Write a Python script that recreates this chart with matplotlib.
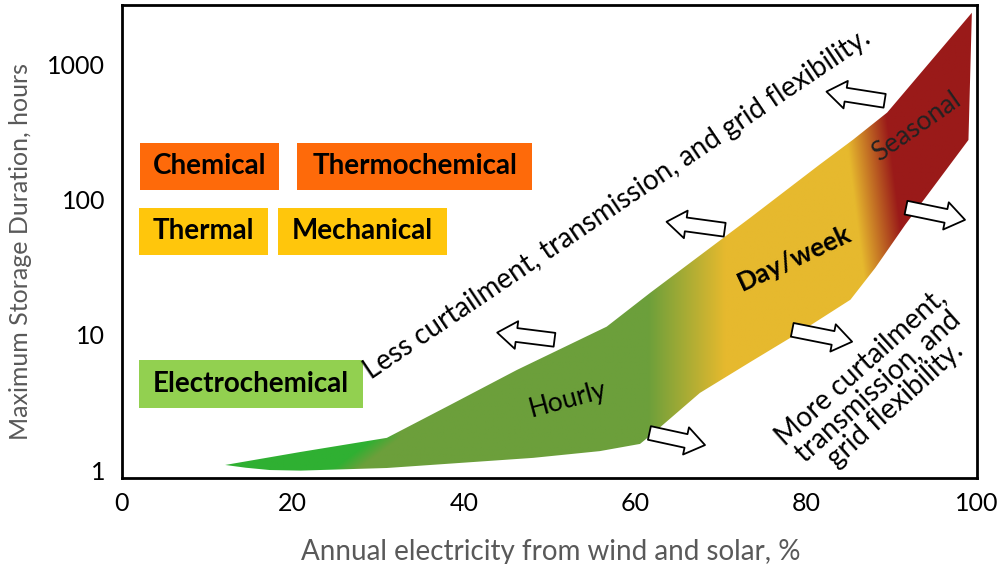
import numpy as np
import matplotlib.pyplot as plt
from matplotlib.patches import Polygon, Rectangle, FancyArrowPatch
from matplotlib.image import AxesImage
from matplotlib.colors import to_rgb

plt.rcParams['font.family'] = ['Lato', 'DejaVu Sans']

# outline of the storage band (x in %, y in hours)
upper_x = [12.1, 20.9, 31.0, 38.4, 46.2, 56.7, 61.8, 73.5, 81.6, 85.5, 89.5, 99.4]
upper_y = [1.09, 1.36, 1.73, 3.03, 5.5, 11.5, 20.5, 73.7, 182, 278, 442, 2420]
lower_x = [12.1, 14.5, 17.3, 20.9, 31.0, 48.1, 55.9, 60.6, 62.3, 67.6, 73.5, 79.3, 85.2, 88.1, 91.6, 99.0]
lower_y = [1.09, 1.04, 1.0, 0.99, 1.035, 1.23, 1.38, 1.56, 1.91, 3.72, 6.3, 10.5, 18.2, 31.3, 65.2, 277]

x_ticks = [0, 20, 40, 60, 80, 100]
y_ticks = [1, 10, 100, 1000]

# technology boxes: label, x0, x1, y0, y1, colour
boxes = [
    ("Chemical", 2.1, 18.4, 118.7, 265, "#fe6a0a"),
    ("Thermochemical", 20.5, 48.0, 118.7, 265, "#fe6a0a"),
    ("Thermal", 2.0, 17.1, 39.0, 87.0, "#ffc60c"),
    ("Mechanical", 18.3, 38.0, 39.0, 87.0, "#ffc60c"),
    ("Electrochemical", 2.0, 28.2, 2.88, 6.54, "#92d050"),
]

# hollow arrows: tail (x, y) -> head (x, y)
left_arrows = [((50.6, 9.2), (43.9, 10.4)), ((70.5, 60.0), (63.7, 68.7)), ((89.2, 540), (82.4, 631))]
right_arrows = [((61.7, 1.88), (68.2, 1.53)), ((78.4, 10.9), (85.4, 8.9)), ((91.7, 87.4), (98.6, 71.0))]

YMIN, YMAX = 0.873, 2760

fig = plt.figure(figsize=(10, 5.64), dpi=100)
ax = fig.add_axes([0.1217, 0.1525, 0.8553, 0.8386])
ax.set_yscale('log')
ax.set_xlim(0, 100)
ax.set_ylim(YMIN, YMAX)

# band with a colour gradient
verts = list(zip(upper_x, upper_y)) + list(zip(lower_x, lower_y))[::-1]
band = Polygon(verts, closed=True, transform=ax.transData, fc='none', ec='none')
ax.add_patch(band)

W, H = 1000, 600
gx = np.linspace(0, 100, W)
gy = np.linspace(np.log10(YMIN), np.log10(YMAX), H)
X, LY = np.meshgrid(gx, gy)


def ramp(v, w):
    return np.clip(v / w + 0.5, 0, 1)[..., None]


light = np.array(to_rgb("#2fb032"))
olive = np.array(to_rgb("#6c9f3b"))
yellow = np.array(to_rgb("#e6b92e"))
red = np.array(to_rgb("#9a1a19"))

xb = np.minimum(26.0 + 5.0 * LY / 0.237, 31.0)
t1 = ramp(X - xb, 3.0)
t2 = ramp(X - 66.0, 9.0)
t3 = ramp(X - 87.5 + 2.0 * (LY - 2.3), 5.0)
col = light * (1 - t1) + olive * t1
col = col * (1 - t2) + yellow * t2
col = col * (1 - t3) + red * t3

im = AxesImage(ax, interpolation='bilinear', origin='lower', extent=(0, 1, 0, 1),
               transform=ax.transAxes)
im.set_data(col)
im.set_clip_path(band)
ax.add_artist(im)

for label, x0, x1, y0, y1, c in boxes:
    ax.add_patch(Rectangle((x0, y0), x1 - x0, y1 - y0, fc=c, ec='none', zorder=2))
    ax.text((x0 + x1) / 2, np.sqrt(y0 * y1), label, ha='center', va='center',
            fontsize=20, fontweight='bold', color='black', zorder=3)

for tail, head in left_arrows + right_arrows:
    ar = FancyArrowPatch(tail, head, arrowstyle='simple,head_length=14,head_width=20,tail_width=10',
                         mutation_scale=1, fc='white', ec='black', lw=1.3,
                         shrinkA=0, shrinkB=0, zorder=4)
    ax.add_patch(ar)

ax.text(57.9, 93, "Less curtailment, transmission, and grid flexibility.", rotation=34,
        rotation_mode='anchor', ha='center', va='center', fontsize=20)
ax.text(88.4, 4.2, "More curtailment,\ntransmission, and\ngrid flexibility.", rotation=42,
        rotation_mode='anchor', ha='center', va='center', fontsize=20, linespacing=1.0)
ax.text(52.1, 3.3, "Hourly", rotation=15, rotation_mode='anchor', ha='center', va='center',
        fontsize=19)
ax.text(78.7, 37.2, "Day/week", rotation=25, rotation_mode='anchor', ha='center', va='center',
        fontsize=19, fontweight='bold')
ax.text(93.0, 347, "Seasonal", rotation=35, rotation_mode='anchor', ha='center', va='center',
        fontsize=19, color='#222222')

ax.set_xticks(x_ticks)
ax.set_xticklabels([str(v) for v in x_ticks])
ax.set_yticks(y_ticks)
ax.set_yticklabels([str(v) for v in y_ticks])
ax.yaxis.set_minor_locator(plt.NullLocator())
ax.tick_params(length=0, labelsize=18, pad=12)
ax.tick_params(axis='x', pad=10)
for s in ax.spines.values():
    s.set_linewidth(2)
    s.set_color('black')

ax.set_xlabel("Annual electricity from wind and solar, %", fontsize=20, color='#595959')
ax.xaxis.set_label_coords(0.502, -0.128)
ax.set_ylabel("Maximum Storage Duration, hours", fontsize=18, color='#595959')
ax.yaxis.set_label_coords(-0.105, 0.478)

fig.savefig("out.png", dpi=100)
